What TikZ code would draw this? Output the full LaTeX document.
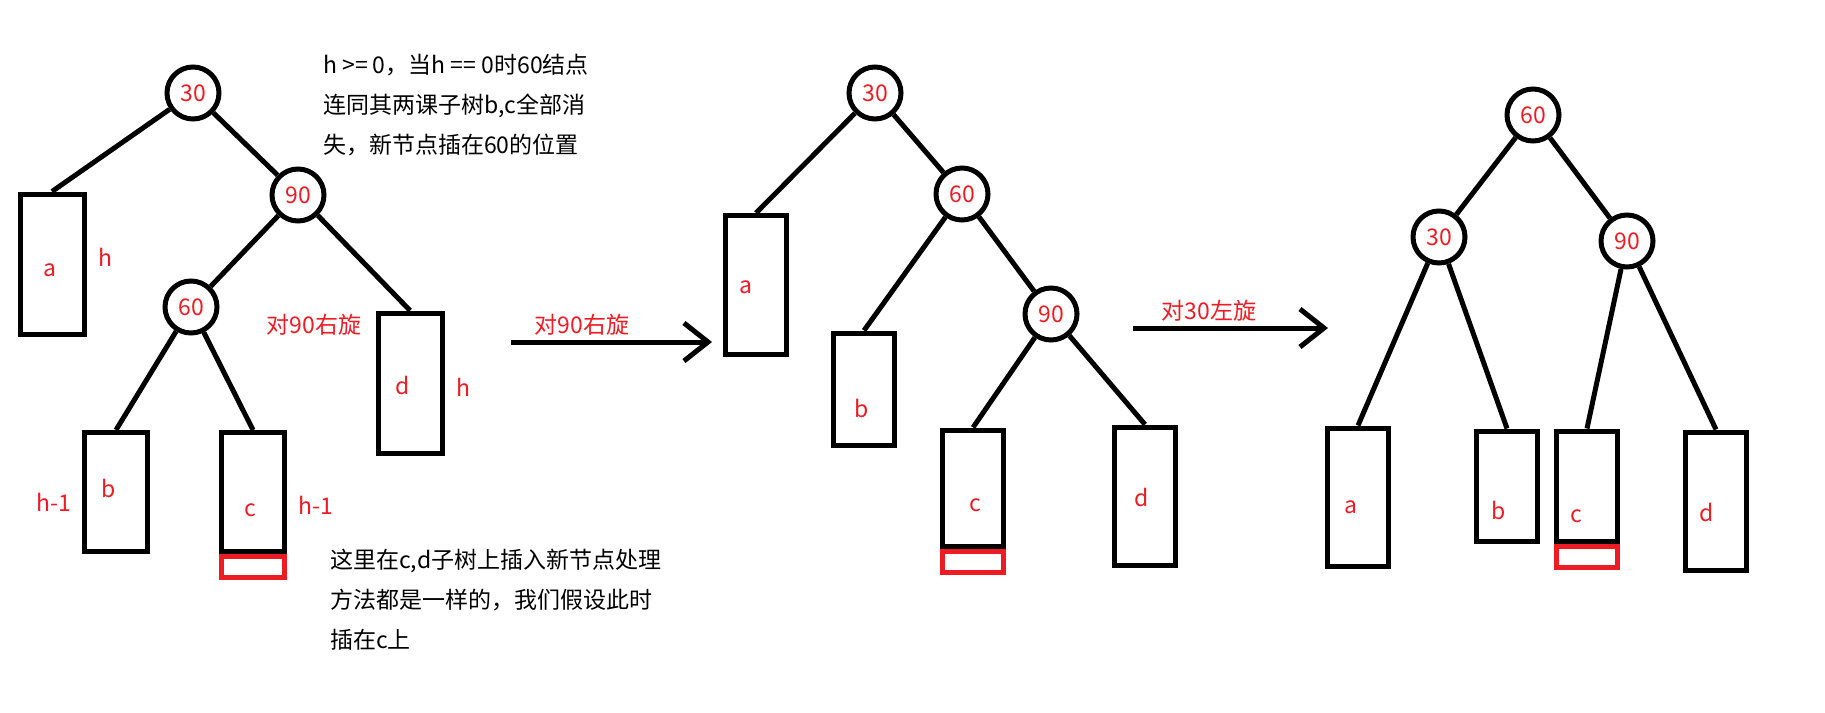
\documentclass[tikz,border=0pt]{standalone}
\usepackage{fontspec}
\setmainfont{Noto Sans CJK SC}
\usetikzlibrary{arrows.meta}
\usetikzlibrary{positioning}
\definecolor{paintred}{RGB}{237,28,36}

\begin{document}
\begin{tikzpicture}[x=1pt,y=1pt,yscale=-1,xscale=1]
  \tikzstyle{key} = [circle,draw,line width=5pt,minimum size=52pt,inner sep=0pt,text=paintred,font=\fontsize{23}{28}\selectfont]
  \tikzstyle{subtree} = [rectangle,draw,line width=5pt,minimum width=61pt,inner sep=0pt]
  \tikzstyle{newnode} = [rectangle,draw=paintred,line width=5pt,minimum width=61pt,minimum height=21pt,inner sep=0pt]
  \tikzstyle{edge} = [line width=5pt]
  \tikzstyle{arrow} = [line width=5pt,-{Straight Barb[length=24pt,width=38pt]}]
  \tikzstyle{tag} = [text=paintred,font=\fontsize{23}{28}\selectfont,inner sep=0pt]
  \tikzstyle{note} = [align=left,anchor=west,inner sep=0pt,font=\fontsize{23}{40}\selectfont]
  \useasboundingbox (0,0) rectangle (1825,712);
  %Left tree
  \node[key] (l30) at (193,93) {30};
  \node[key] (l90) at (298,195) {90};
  \node[key] (l60) at (191,307) {60};
  \node[subtree,minimum width=64pt,minimum height=140pt] (la) at (52,264) {};
  \node[subtree,minimum width=63pt,minimum height=119pt] (lb) at (116,492) {};
  \node[subtree,minimum width=63pt,minimum height=119pt] (lc) at (253,492) {};
  \node[subtree,minimum width=64pt,minimum height=140pt] (ld) at (410,383) {};
  \node[newnode,minimum width=63pt,below=0pt of lc] (lnew) {};
  \draw[edge] (l30) -- (la.north);
  \draw[edge] (l30) -- (l90);
  \draw[edge] (l90) -- (l60);
  \draw[edge] (l90) -- (ld.north);
  \draw[edge] (l60) -- (lb.north);
  \draw[edge] (l60) -- (lc.north);
  % Label the subtrees
  \node[tag] (lta) at (50,270) {a};
  \node[tag] (ltb) at (109,488) {b};
  \node[tag] (ltc) at (250,510) {c};
  \node[tag] (ltd) at (403,385) {d};
  \node[tag] (lha) at (105,257) {h};
  \node[tag] (lhb) at (54,502) {h-1};
  \node[tag] (lhc) at (316,505) {h-1};
  \node[tag] (lhd) at (463,387) {h};
  \node[tag] (lrot) at (314,325) {对90右旋};
  \node[note] (ltop) at (323,105) {h >= 0，当h == 0时60结点\\连同其两课子树b,c全部消\\失，新节点插在60的位置};
  \node[note] (lbot) at (330,600) {这里在c,d子树上插入新节点处理\\方法都是一样的，我们假设此时\\插在c上};
  %First rotation
  \coordinate (s1) at (511,342);
  \coordinate (e1) at (712,342);
  \draw[arrow] (s1) -- (e1);
  \node[tag] (rot1) at (582,325) {对90右旋};
  %Middle tree
  \node[key] (m30) at (875,93) {30};
  \node[key] (m60) at (962,194) {60};
  \node[key] (m90) at (1051,314) {90};
  \node[subtree,minimum height=139pt] (ma) at (756,285) {};
  \node[subtree,minimum height=112pt] (mb) at (864,389) {};
  \node[subtree,minimum height=116pt] (mc) at (973,488) {};
  \node[subtree,minimum height=138pt] (md) at (1145,496) {};
  \node[newnode,below=0pt of mc] (mnew) {};
  \draw[edge] (m30) -- (ma.north);
  \draw[edge] (m30) -- (m60);
  \draw[edge] (m60) -- (mb.north);
  \draw[edge] (m60) -- (m90);
  \draw[edge] (m90) -- (mc.north);
  \draw[edge] (m90) -- (md.north);
  \node[tag] (mta) at (746,287) {a};
  \node[tag] (mtb) at (862,408) {b};
  \node[tag] (mtc) at (975,505) {c};
  \node[tag] (mtd) at (1142,497) {d};
  %Second rotation
  \coordinate (s2) at (1133,328);
  \coordinate (e2) at (1328,328);
  \draw[arrow] (s2) -- (e2);
  \node[tag] (rot2) at (1209,311) {对30左旋};
  %Right tree
  \node[key] (r60) at (1533,115) {60};
  \node[key] (r30) at (1439,237) {30};
  \node[key] (r90) at (1627,241) {90};
  \node[subtree,minimum height=138pt] (ra) at (1358,497) {};
  \node[subtree,minimum height=110pt] (rb) at (1507,486) {};
  \node[subtree,minimum height=110pt] (rc) at (1587,486) {};
  \node[subtree,minimum height=138pt] (rd) at (1716,501) {};
  \node[newnode,below=0pt of rc] (rnew) {};
  \draw[edge] (r60) -- (r30);
  \draw[edge] (r60) -- (r90);
  \draw[edge] (r30) -- (ra.north);
  \draw[edge] (r30) -- (rb.north);
  \draw[edge] (r90) -- (rc.north);
  \draw[edge] (r90) -- (rd.north);
  \node[tag] (rta) at (1351,507) {a};
  \node[tag] (rtb) at (1499,510) {b};
  \node[tag] (rtc) at (1576,516) {c};
  \node[tag] (rtd) at (1707,512) {d};
\end{tikzpicture}
\end{document}
